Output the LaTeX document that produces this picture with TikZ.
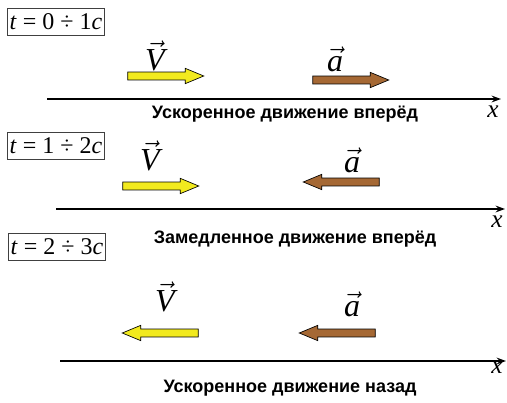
\documentclass[tikz,border=0pt]{standalone}
\usepackage{fontspec}
\setmainfont{Liberation Serif}
\setsansfont{Liberation Sans}
\usepackage{tikz}
\usetikzlibrary{shapes.arrows,arrows.meta,positioning}

\definecolor{velyellow}{RGB}{242,234,30}
\definecolor{accbrown}{RGB}{165,104,52}

\begin{document}
\begin{tikzpicture}[
    x=0.75pt, y=-0.75pt,
    timebox/.style={rectangle, draw=black!75, line width=0.7pt, inner xsep=2pt, inner ysep=4pt, font=\fontsize{18}{20}\selectfont},
    blockarrow/.style={single arrow, draw, line width=0.5pt, single arrow head extend=2.8pt, single arrow tip angle=45, inner sep=2.7pt, minimum height=57pt, anchor=center},
    velarrow/.style={blockarrow, fill=velyellow},
    accarrow/.style={blockarrow, fill=accbrown},
    vlabel/.style={font=\fontsize{24}{26}\selectfont},
    axis/.style={line width=1.4pt, -{Stealth[length=7pt,width=5pt]}},
    caption/.style={font=\sffamily\bfseries\fontsize{13.5}{15}\selectfont},
    xlabel/.style={font=\itshape\fontsize{19}{20}\selectfont, inner sep=0pt}
]
\useasboundingbox (0,0) rectangle (507,403);

% Part 1: t = 0..1 c
\node[timebox] (t1) at (56,22) {\textit{t} = 0 ÷ 1\textit{c}};
\node[velarrow] (v1) at (161,76) {};
\node[vlabel] (v1lab) at (155,56) {$\vec{\mathit{V}}$};
\node[accarrow] (a1) at (346,80) {};
\node[vlabel] (a1lab) at (335,59) {$\vec{\mathit{a}}$};
\coordinate (ax1s) at (47,99);
\coordinate (ax1e) at (501,99);
\draw[axis] (ax1s) -- (ax1e);
\node[xlabel] (x1) at (493,112) {x};
\node[caption] (c1) at (285,114) {Ускоренное движение вперёд};

% Part 2: t = 1..2 c
\node[timebox] (t2) at (56,146) {\textit{t} = 1 ÷ 2\textit{c}};
\node[velarrow] (v2) at (156,186) {};
\node[vlabel] (v2lab) at (150,156) {$\vec{\mathit{V}}$};
\node[accarrow, shape border rotate=180] (a2) at (346,182) {};
\node[vlabel] (a2lab) at (352,160) {$\vec{\mathit{a}}$};
\coordinate (ax2s) at (56,209);
\coordinate (ax2e) at (505,209);
\draw[axis] (ax2s) -- (ax2e);
\node[xlabel] (x2) at (497,222) {x};
\node[caption] (c2) at (295,239) {Замедленное движение вперёд};

% Part 3: t = 2..3 c
\node[timebox] (t3) at (57,247) {\textit{t} = 2 ÷ 3\textit{c}};
\node[velarrow, shape border rotate=180] (v3) at (165,333) {};
\node[vlabel] (v3lab) at (165,297) {$\vec{\mathit{V}}$};
\node[accarrow, shape border rotate=180] (a3) at (342,333) {};
\node[vlabel] (a3lab) at (352,304) {$\vec{\mathit{a}}$};
\coordinate (ax3s) at (60,361);
\coordinate (ax3e) at (506,361);
\draw[axis] (ax3s) -- (ax3e);
\node[xlabel] (x3) at (497,368) {x};
\node[caption] (c3) at (290,388) {Ускоренное движение назад};
\end{tikzpicture}
\end{document}
